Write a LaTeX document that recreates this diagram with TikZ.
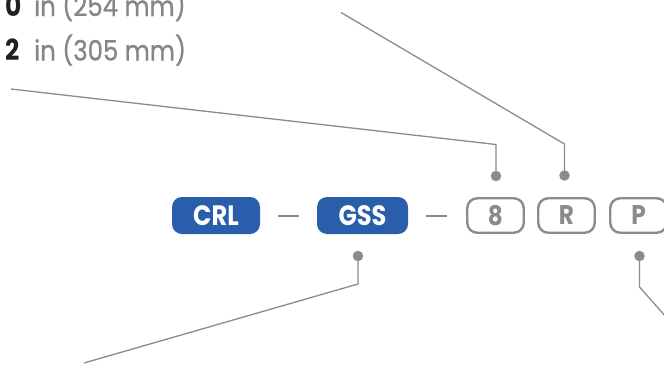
\documentclass[tikz,border=0pt]{standalone}
\usepackage{fontspec}
\setmainfont{Poppins}
\newfontfamily\dimfont{Poppins}[FakeStretch=0.87, FakeBold=0.7]
\newfontfamily\codefont{Poppins}[FakeStretch=0.86, BoldFeatures={FakeStretch=0.86}]
\definecolor{codeblue}{HTML}{2A5DAA}
\definecolor{linegrey}{HTML}{8A8A8F}
\definecolor{textgrey}{HTML}{85858A}
\definecolor{darktext}{HTML}{231F20}
\begin{document}
\begin{tikzpicture}[x=1pt,y=-1pt,
  bluebox/.style={rounded corners=10pt, fill=codeblue, text=white, inner sep=0pt,
     minimum height=37pt, font=\codefont\fontsize{28}{28}\selectfont\bfseries},
  greybox/.style={rounded corners=10pt, draw=linegrey, line width=2.4pt, text=linegrey, inner sep=0pt,
     minimum width=56.5pt, minimum height=34.5pt, font=\codefont\fontsize{27}{27}\selectfont\bfseries},
  dotmark/.style={circle, fill=linegrey, inner sep=0pt, minimum size=10.5pt},
  leader/.style={draw=linegrey, line width=1.3pt},
  sep/.style={draw=linegrey, line width=2.2pt},
  dimtext/.style={inner sep=0pt, anchor=base west, text=textgrey, font=\dimfont\fontsize{28}{28}\selectfont},
  dimnum/.style={inner sep=0pt, anchor=base west, text=darktext, font=\codefont\fontsize{29}{29}\selectfont\bfseries}
]
\useasboundingbox (0,0) rectangle (664,365);
\clip (0,0) rectangle (664,365);

% top-left texts
\node[dimnum] (n0) at (5,16) {0};
\node[dimtext] (t0) at (34,16) {in (254 mm)};
\node[dimnum] (n2) at (5,60.5) {2};
\node[dimtext] (t2) at (34,60.5) {in (305 mm)};

% code boxes
\node[bluebox, minimum width=88pt] (crl) at (216,215.5) {CRL};
\node[bluebox, minimum width=91pt] (gss) at (362.5,215.5) {GSS};
\node[greybox] (b8) at (495.5,215.5) {8};
\node[greybox] (bR) at (566.5,215.5) {R};
\node[greybox] (bP) at (638.5,215.5) {P};

% separators
\coordinate (s1a) at (278,216); \coordinate (s1b) at (299,216);
\coordinate (s2a) at (426,216); \coordinate (s2b) at (447,216);
\draw[sep] (s1a) -- (s1b);
\draw[sep] (s2a) -- (s2b);

% dots
\node[dotmark] (d8) at (496,176) {};
\node[dotmark] (dR) at (564.5,175.5) {};
\node[dotmark] (dG) at (358,256) {};
\node[dotmark] (dP) at (639.5,256) {};

% leader lines
\coordinate (c8) at (496,144.5);
\coordinate (e8) at (11,89);
\draw[leader] (d8.center) -- (c8) -- (e8);

\coordinate (cR) at (564.5,144);
\coordinate (eR) at (341,12.5);
\draw[leader] (dR.center) -- (cR) -- (eR);

\coordinate (cG) at (358,284);
\coordinate (eG) at (84,363);
\draw[leader] (dG.center) -- (cG) -- (eG);

\coordinate (cP) at (639.5,287);
\coordinate (eP) at (690,344);
\draw[leader] (dP.center) -- (cP) -- (eP);
\end{tikzpicture}
\end{document}
